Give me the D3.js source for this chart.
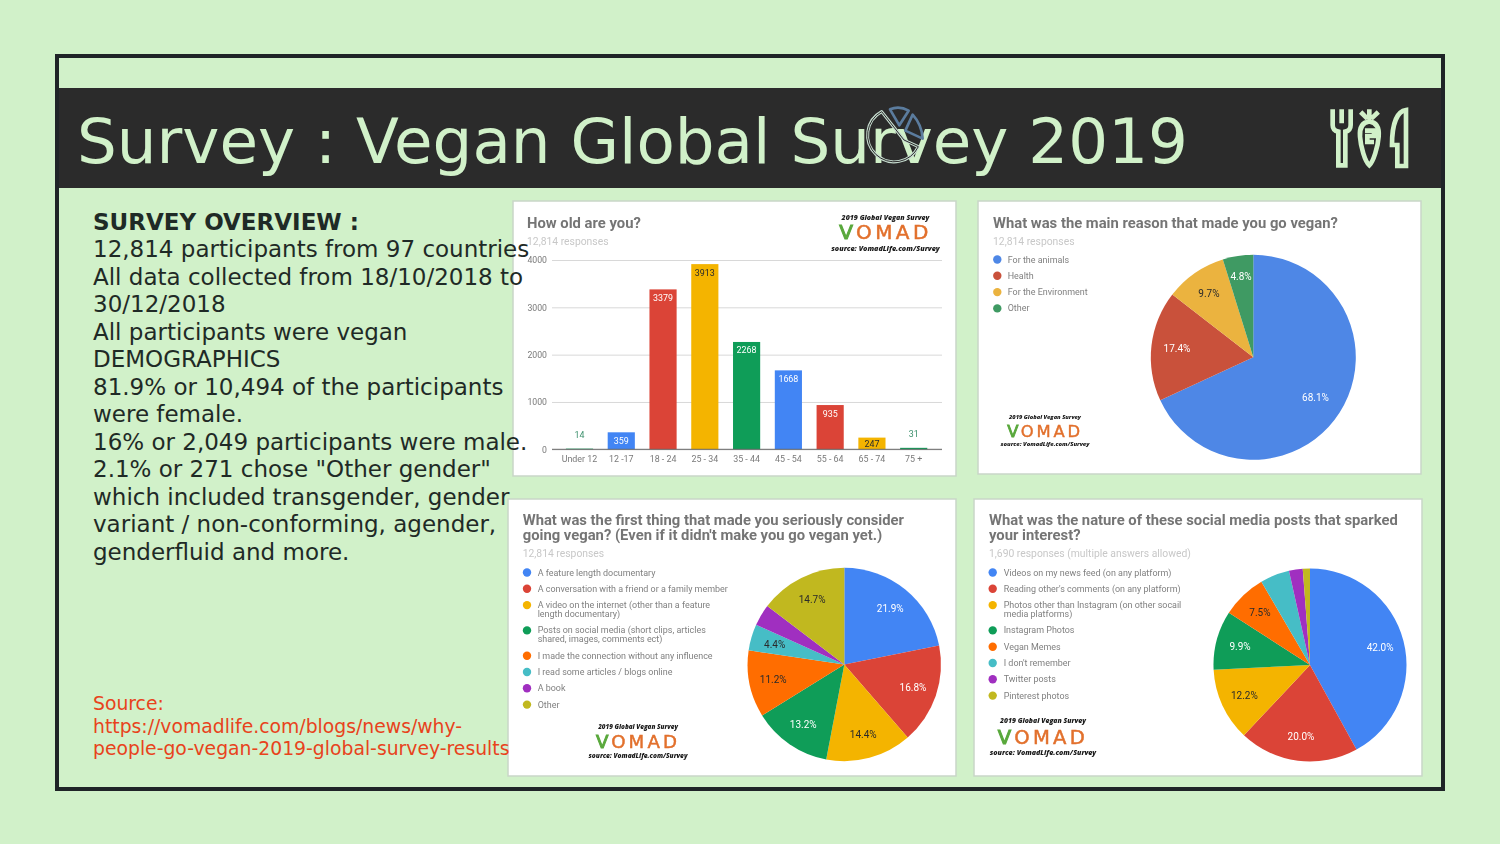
<!DOCTYPE html>
<html><head><meta charset="utf-8">
<style>html,body{margin:0;padding:0;background:#d1f1c9;overflow:hidden}svg{display:block}</style>
<script src="https://cdn.jsdelivr.net/npm/d3@7"></script></head>
<body><svg id="c" width="1500" height="844"></svg>
<script>
// ---- data ----
const slideTitle = "Survey : Vegan Global Survey 2019";
const overviewHead = "SURVEY OVERVIEW :";
const overviewLines = ["12,814 participants from 97 countries","All data collected from 18/10/2018 to","30/12/2018","All participants were vegan","DEMOGRAPHICS","81.9% or 10,494 of the participants","were female.","16% or 2,049 participants were male.","2.1% or 271 chose \"Other gender\"","which included transgender, gender","variant / non-conforming, agender,","genderfluid and more."];
const sourceLines = ["Source:","https://vomadlife.com/blogs/news/why-","people-go-vegan-2019-global-survey-results"];

const ageCategories = ["Under 12","12 -17","18 - 24","25 - 34","35 - 44","45 - 54","55 - 64","65 - 74","75 +"];
const ageValues = [14,359,3379,3913,2268,1668,935,247,31];
const ageTicks = [0,1000,2000,3000,4000];
const ageColors = ["#0f9d58","#4285f4","#db4437","#f4b400","#0f9d58","#4285f4","#db4437","#f4b400","#0f9d58"];

const reasonLabels = ["For the animals","Health","For the Environment","Other"];
const reasonValues = [68.1,17.4,9.7,4.8];
const reasonColors = ["#4e87e6","#c9513b","#ebb33f","#3f9a63"];

const firstLabels = [["A feature length documentary"],["A conversation with a friend or a family member"],["A video on the internet (other than a feature","length documentary)"],["Posts on social media (short clips, articles","shared, images, comments ect)"],["I made the connection without any influence"],["I read some articles / blogs online"],["A book"],["Other"]];
const firstValues = [21.9,16.8,14.4,13.2,11.2,4.4,3.6,14.7];
const socialLabels = [["Videos on my news feed (on any platform)"],["Reading other's comments (on any platform)"],["Photos other than Instagram (on other socail","media platforms)"],["Instagram Photos"],["Vegan Memes"],["I don't remember"],["Twitter posts"],["Pinterest photos"]];
const socialValues = [42.0,20.0,12.2,9.9,7.5,4.9,2.3,1.2];
const googleColors = ["#4285f4","#db4437","#f4b400","#0f9d58","#ff6d00","#46bdc6","#a02fc0","#c1b81f"];
const darkLabelColors = new Set(["#f4b400","#ebb33f","#ff6d00","#46bdc6","#c1b81f"]);

// ---- drawing ----
const BG="#d1f1c9", DARK="#2b2b2b", GREY="#757575", FONT="Roboto, sans-serif", SANS="'DejaVu Sans', sans-serif";
const svg=d3.select("#c");
svg.append("rect").attr("width",1500).attr("height",844).attr("fill",BG);
svg.append("rect").attr("x",57).attr("y",56).attr("width",1386).attr("height",733).attr("fill",BG).attr("stroke","#1f2427").attr("stroke-width",4);
svg.append("rect").attr("x",59).attr("y",88).attr("width",1382).attr("height",100).attr("fill",DARK);
svg.append("text").attr("x",77).attr("y",163).attr("font-family",SANS).attr("font-size",62.7).attr("fill",BG).text(slideTitle);

function panel(x,y,w,h){
  const g=svg.append("g").style("filter","blur(0.35px)");
  g.append("rect").attr("x",x).attr("y",y).attr("width",w).attr("height",h).attr("fill","#fff").attr("stroke","#c9d6c8").attr("stroke-width",1.5);
  return g;
}
function heading(g,x,lines,sub,y0,ySub){
  lines.forEach((t,i)=>g.append("text").attr("x",x).attr("y",y0+i*15).attr("font-family",FONT).attr("font-weight",700).attr("font-size",14.8).attr("fill",GREY).text(t));
  g.append("text").attr("x",x).attr("y",ySub).attr("font-family",FONT).attr("font-size",10.35).attr("fill","#c8c8c8").text(sub);
}
function logo(g,cx,yTop,yMid,yBot,s){
  const family="'Open Sans', sans-serif";
  const t=(y,size,txt)=>g.append("text").attr("x",cx).attr("y",y).attr("font-size",size*s).attr("fill","#1a1a1a").attr("font-family",family).attr("text-anchor","middle").attr("font-weight",800).attr("font-style","italic").text(txt);
  t(yTop+2.5,7,"2019 Global Vegan Survey");
  const v=g.append("text").attr("x",cx).attr("y",yMid+7.3*s).attr("font-size",20*s).attr("font-family",SANS).attr("text-anchor","middle").attr("letter-spacing",3.4*s).attr("fill","#e2702c").attr("stroke","#e2702c").attr("stroke-width",.5*s);
  v.append("tspan").attr("fill","#59a83c").attr("stroke","#59a83c").attr("stroke-width",1.1*s).text("V");
  v.append("tspan").text("OMAD");
  t(yBot+2.5,7.2,"source: VomadLife.com/Survey");
}
function legend(g,labels,colors,dotX,textX,y0){
  let y=y0;
  labels.forEach((lines,i)=>{
    g.append("circle").attr("cx",dotX).attr("cy",y).attr("r",4.2).attr("fill",colors[i]);
    lines.forEach((t,j)=>g.append("text").attr("x",textX).attr("y",y+3+j*9).attr("font-family",FONT).attr("font-size",8.95).attr("fill","#808080").text(t));
    y+=16.3+(lines.length-1)*9;
  });
}
function pieChart(g,values,colors,cx,cy,r,hideBelow,labelFractions){
  const arcs=d3.pie().sort(null)(values);
  const arc=d3.arc().innerRadius(0).outerRadius(r);
  const lab=(d)=>{const f=r*(labelFractions?labelFractions[d.index]:.75);return d3.arc().innerRadius(f).outerRadius(f).centroid(d);};
  const c=g.append("g").attr("transform",`translate(${cx},${cy})`);
  c.selectAll("path").data(arcs).join("path").attr("d",arc).attr("fill",(d,i)=>colors[i]);
  c.selectAll("text").data(arcs.filter(d=>d.value>=hideBelow)).join("text")
    .attr("transform",d=>`translate(${lab(d)})`).attr("dy","0.35em").attr("text-anchor","middle")
    .attr("font-family",FONT).attr("font-size",10)
    .attr("fill",d=>darkLabelColors.has(colors[d.index])?"#2a2a2a":"#fff")
    .text(d=>d.value.toFixed(1)+"%");
}

// Panel 1: bar chart
{
  const g=panel(513,201,443,275);
  heading(g,527,["How old are you?"],"12,814 responses",228,245);
  logo(g,885.5,217,232,248,1);
  const x=d3.scaleBand().domain(ageCategories).range([558.6,934.6]).paddingInner(.35).paddingOuter(.175);
  const y=d3.scaleLinear().domain([0,4000]).range([449.3,260]);
  const ya=g.append("g").attr("transform","translate(552,0)").call(d3.axisLeft(y).tickValues(ageTicks).tickFormat(d3.format("d")).tickSize(0).tickPadding(5));
  ya.select(".domain").remove();
  ya.selectAll(".tick line").attr("x2",390).attr("stroke","#d8d8d8");
  ya.selectAll("text").attr("font-family",FONT).attr("font-size",8.7).attr("fill","#7a7a7a");
  g.selectAll("rect.bar").data(ageValues).join("rect").attr("class","bar")
    .attr("x",(d,i)=>x(ageCategories[i])).attr("y",d=>y(d)).attr("width",x.bandwidth()).attr("height",d=>y(0)-y(d)).attr("fill",(d,i)=>ageColors[i]);
  const xa=g.append("g").attr("transform","translate(0,449.3)").call(d3.axisBottom(x).tickSize(0).tickPadding(6));
  xa.select(".domain").attr("stroke","#666").attr("d","M-6,0H384").attr("transform","translate(558,0)");
  xa.selectAll("text").attr("font-family",FONT).attr("font-size",8.9).attr("fill","#7a7a7a");
  g.selectAll("text.val").data(ageValues).join("text").attr("class","val")
    .attr("x",(d,i)=>x(ageCategories[i])+x.bandwidth()/2)
    .attr("y",d=>d<100?y(d)-11:Math.min(y(d)+11.5,446.5)).attr("text-anchor","middle")
    .attr("font-family",FONT).attr("font-size",8.9)
    .attr("fill",(d,i)=>d<100?"#3b8f6b":(ageColors[i]==="#f4b400"?"#2a2a2a":"#fff")).text(d=>d);
}
// Panel 2
{
  const g=panel(978,201,443,273);
  heading(g,993,["What was the main reason that made you go vegan?"],"12,814 responses",228,245);
  legend(g,reasonLabels.map(d=>[d]),reasonColors,997.3,1007.7,259.5);
  pieChart(g,reasonValues,reasonColors,1253.3,357.3,102.5,1,[.72,.75,.76,.8]);
  logo(g,1045,416,431,443,.82);
}
// Panel 3
{
  const g=panel(508,499,448,277);
  heading(g,522.7,["What was the first thing that made you seriously consider","going vegan? (Even if it didn't make you go vegan yet.)"],"12,814 responses",525,557);
  legend(g,firstLabels,googleColors,527,537.7,572.5);
  pieChart(g,firstValues,googleColors,844.3,664.5,96.7,4);
  logo(g,638,726,741,755,.91);
}
// Panel 4
{
  const g=panel(974,499,448,277);
  heading(g,989,["What was the nature of these social media posts that sparked","your interest?"],"1,690 responses (multiple answers allowed)",525,557);
  legend(g,socialLabels,googleColors,992.7,1003.7,572.5);
  pieChart(g,socialValues,googleColors,1310,665,96.5,6);
  logo(g,1043,720,737,752,.98);
}
// Left text (drawn over the panels, as in the slide)
svg.append("text").attr("x",93).attr("y",230).attr("font-family",SANS).attr("font-weight",700).attr("font-size",23).attr("fill","#1f2a26").text(overviewHead);
svg.selectAll("text.ov").data(overviewLines).join("text").attr("class","ov").attr("x",93).attr("y",(d,i)=>257+i*27.5)
  .attr("font-family",SANS).attr("font-size",23).attr("fill","#1f2a26").text(d=>d);
svg.selectAll("text.src").data(sourceLines).join("text").attr("class","src").attr("x",93).attr("y",(d,i)=>710+i*22.6)
  .attr("font-family",SANS).attr("font-size",18.8).attr("fill","#e8431c").text(d=>d);

// Decorative icons
const ic=svg.append("g").attr("transform","translate(840,90) scale(.3333)").attr("fill","none").attr("stroke-linejoin","round");
const big="M125 65 A80 80 0 1 0 235 170 L192 150 Z";
ic.append("path").attr("d",big).attr("stroke","#c6dccf").attr("stroke-width",9);
ic.append("path").attr("d",big).attr("stroke",DARK).attr("stroke-width",3);
ic.append("path").attr("d","M150 58 Q178 46 206 62 L178 106 Z M218 74 Q246 105 248 146 L196 122 Z").attr("stroke","#5b7c9e").attr("stroke-width",8);
const ut=svg.append("g").attr("transform","translate(1310,90) scale(.3333)").attr("fill","none").attr("stroke",BG).attr("stroke-width",14);
ut.append("path").attr("d","M68 58 V105 Q68 122 85 125 V226 H106 V125 Q122 122 122 105 V58 M95 58 V100");
ut.append("path").attr("d","M178 94 C155 97 148 115 150 140 C152 170 165 215 178 226 C190 215 204 170 206 140 C208 115 200 97 178 94 Z M178 58 V88 M152 66 L172 86 M205 66 L184 86 M165 122 H192 V138 H172 V156 H192");
ut.append("path").attr("d","M288 60 C262 64 246 100 246 165 H262 V228 H288 Z");
</script></body></html>
